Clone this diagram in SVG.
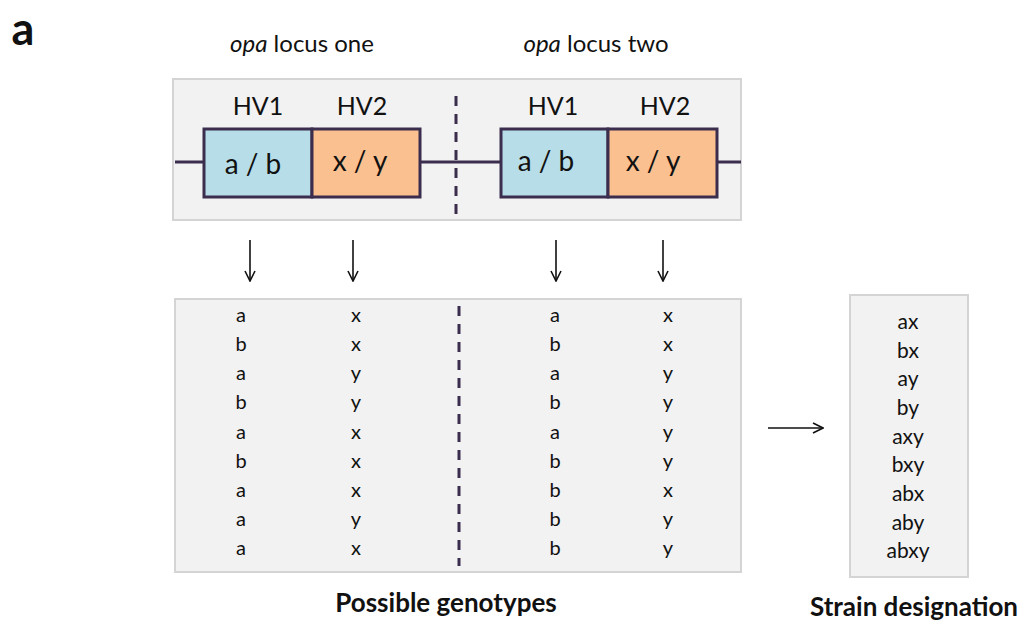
<svg xmlns="http://www.w3.org/2000/svg" width="1020" height="620" viewBox="0 0 1020 620">
<style>
text{font-family:Lato,"Open Sans","Liberation Sans",sans-serif;fill:#111;text-anchor:middle}
.panel{fill:#f2f2f2;stroke:#d4d4d4;stroke-width:2}
.hv1{fill:#b7dde8;stroke:#3a2d4d;stroke-width:3}
.hv2{fill:#fac090;stroke:#3a2d4d;stroke-width:3}
.dna{stroke:#3a2d4d;stroke-width:3;fill:none}
.dash{stroke:#3a2d4d;stroke-width:3;stroke-dasharray:10,8;fill:none}
.arr{stroke:#111;stroke-width:1.6;fill:none}
.hv{font-size:25px}
.al{font-size:28px}
.cell{font-size:20px}
.cell2{font-size:21px}
.lab{font-size:24px}
.bold{font-size:26px;font-weight:bold}
</style>
<defs>
<marker id="ah" viewBox="0 0 12 12" refX="11" refY="6" markerWidth="12" markerHeight="12" markerUnits="userSpaceOnUse" orient="auto">
<path d="M1,1 L11,6 L1,11" fill="none" stroke="#111" stroke-width="1.6"/>
</marker>
</defs>
<text x="23" y="45" style="font-size:45px;font-weight:bold;text-anchor:middle">a</text>
<text x="302" y="52" class="lab"><tspan font-style="italic">opa</tspan> locus one</text>
<text x="596" y="52" class="lab"><tspan font-style="italic">opa</tspan> locus two</text>
<g id="loci">
<rect class="panel" x="173" y="79" width="568" height="141"/>
<line class="dna" x1="175" y1="162" x2="203" y2="162"/>
<line class="dna" x1="420" y1="162" x2="500" y2="162"/>
<line class="dna" x1="717" y1="162" x2="741" y2="162"/>
<line class="dash" x1="456" y1="96" x2="456" y2="214"/>
<rect class="hv1" x="204" y="129" width="108" height="68"/>
<rect class="hv2" x="312" y="129" width="108" height="68"/>
<rect class="hv1" x="501" y="129" width="107" height="68"/>
<rect class="hv2" x="608" y="129" width="109" height="68"/>
<text class="hv" x="258" y="115">HV1</text>
<text class="hv" x="362" y="115">HV2</text>
<text class="hv" x="553" y="115">HV1</text>
<text class="hv" x="665" y="115">HV2</text>
<text class="al" x="253" y="174">a / b</text>
<text class="al" x="360" y="171">x / y</text>
<text class="al" x="546" y="171">a / b</text>
<text class="al" x="653" y="171">x / y</text>
</g>
<g id="genotypes">
<rect class="panel" x="175" y="299" width="566" height="273"/>
<line class="dash" x1="459" y1="306" x2="459" y2="566" stroke-dasharray="8,9"/>
<g class="cell">
<text x="241" y="322">a</text><text x="241" y="351">b</text><text x="241" y="380">a</text><text x="241" y="409">b</text><text x="241" y="439">a</text><text x="241" y="468">b</text><text x="241" y="497">a</text><text x="241" y="526">a</text><text x="241" y="555">a</text>
<text x="356" y="322">x</text><text x="356" y="351">x</text><text x="356" y="380">y</text><text x="356" y="409">y</text><text x="356" y="439">x</text><text x="356" y="468">x</text><text x="356" y="497">x</text><text x="356" y="526">y</text><text x="356" y="555">x</text>
<text x="555" y="322">a</text><text x="555" y="351">b</text><text x="555" y="380">a</text><text x="555" y="409">b</text><text x="555" y="439">a</text><text x="555" y="468">b</text><text x="555" y="497">b</text><text x="555" y="526">b</text><text x="555" y="555">b</text>
<text x="668" y="322">x</text><text x="668" y="351">x</text><text x="668" y="380">y</text><text x="668" y="409">y</text><text x="668" y="439">y</text><text x="668" y="468">y</text><text x="668" y="497">x</text><text x="668" y="526">y</text><text x="668" y="555">y</text>
</g>
<text class="bold" x="446" y="612">Possible genotypes</text>
</g>
<g id="strain">
<rect class="panel" x="850" y="295" width="118" height="282"/>
<g class="cell2">
<text x="908" y="329">ax</text><text x="908" y="358">bx</text><text x="908" y="386">ay</text><text x="908" y="415">by</text><text x="908" y="444">axy</text><text x="908" y="472">bxy</text><text x="908" y="501">abx</text><text x="908" y="530">aby</text><text x="908" y="558">abxy</text>
</g>
<text class="bold" x="914" y="616">Strain designation</text>
</g>
<g id="connectors">
<line class="arr" x1="250" y1="240" x2="250" y2="281" marker-end="url(#ah)"/>
<line class="arr" x1="353" y1="240" x2="353" y2="281" marker-end="url(#ah)"/>
<line class="arr" x1="556" y1="240" x2="556" y2="281" marker-end="url(#ah)"/>
<line class="arr" x1="663" y1="240" x2="663" y2="281" marker-end="url(#ah)"/>
<line class="arr" x1="768" y1="428" x2="823" y2="428" marker-end="url(#ah)"/>
</g>
</svg>
